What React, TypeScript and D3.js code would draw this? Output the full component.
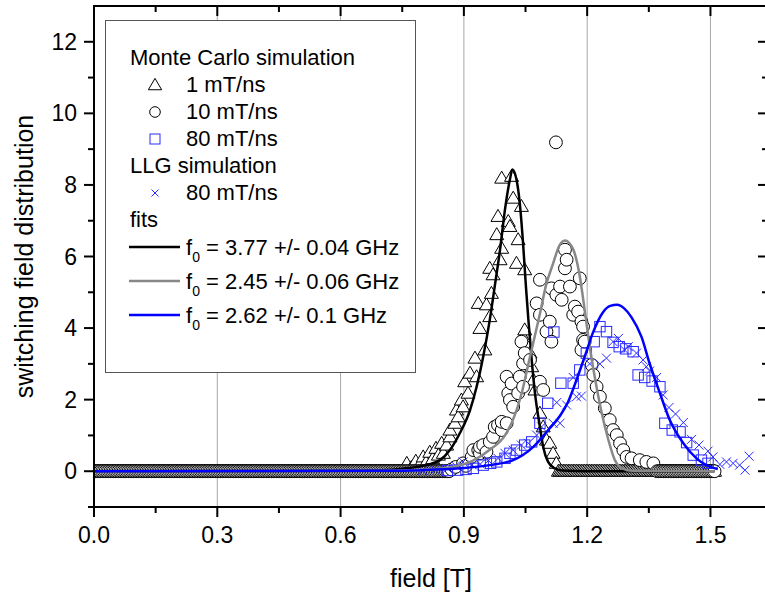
import React from "react";
import * as d3 from "d3";

const W = 765;
const H = 596;

const xDomain = [0, 1.64];
const yDomain = [-1, 13];
const xTickValues = [0, 0.3, 0.6, 0.9, 1.2, 1.5];
const xTickLabels = ["0.0", "0.3", "0.6", "0.9", "1.2", "1.5"];
const xMinorTicks = [0.15, 0.45, 0.75, 1.05, 1.35];
const yTickValues = [0, 2, 4, 6, 8, 10, 12];
const yTickLabels = ["0", "2", "4", "6", "8", "10", "12"];
const yMinorTicks = [-1, 1, 3, 5, 7, 9, 11];
const gridValues = [0.3, 0.6, 0.9, 1.2, 1.5];

// zero-valued stretches of the Monte Carlo histograms (field ranges where value = 0)
const zeroStep = 0.004;
const mc1ZeroRanges = [[0, 0.755], [1.13, 1.51]];
const mc10ZeroRanges = [[0, 0.865], [1.37, 1.51]];

// Monte Carlo 1 mT/ns (triangles)
const mc1Points = [
  [0.761, 0.22], [0.772, 0.1], [0.783, 0.28], [0.792, 0.18], [0.801, 0.4], [0.808, 0.25],
  [0.817, 0.53], [0.824, 0.35], [0.832, 0.64], [0.838, 0.45], [0.846, 0.78], [0.85, 0.5],
  [0.858, 0.73], [0.866, 0.96], [0.866, 1.15], [0.878, 1.34], [0.882, 1.71], [0.886, 1.52],
  [0.894, 1.99], [0.898, 1.8], [0.902, 2.5], [0.91, 2.18], [0.915, 2.74], [0.927, 3.16],
  [0.931, 2.64], [0.935, 4.69], [0.939, 3.99], [0.951, 3.39], [0.955, 4.65], [0.963, 4.32],
  [0.963, 5.67], [0.967, 4.97], [0.971, 5.49], [0.98, 6.61], [0.983, 7.12], [0.988, 5.91],
  [0.992, 6.23], [0.992, 8.19], [1.008, 6.98], [1.012, 6.84], [1.016, 8.24], [1.02, 7.63],
  [1.028, 5.81], [1.032, 6.47], [1.04, 7.4], [1.044, 3.76], [1.048, 5.63], [1.048, 3.95],
  [1.061, 3.3], [1.065, 2.92], [1.069, 2.55], [1.073, 2.27], [1.085, 1.62], [1.093, 1.24],
  [1.101, 0.87], [1.109, 0.78], [1.117, 0.5], [1.125, 0.22],
];

// Monte Carlo 10 mT/ns (circles)
const mc10Points = [
  [0.87, 0.05], [0.88, 0.12], [0.898, 0.22], [0.905, 0.15], [0.919, 0.4], [0.923, 0.59],
  [0.935, 0.59], [0.939, 0.5], [0.939, 0.68], [0.947, 0.73], [0.955, 0.54], [0.963, 0.82],
  [0.971, 0.96], [0.975, 1.24], [0.983, 1.29], [0.992, 1.15], [0.992, 1.38], [1.004, 1.34],
  [1.004, 2.64], [1.008, 2.18], [1.012, 1.99], [1.016, 2.45], [1.02, 1.8], [1.032, 2.18],
  [1.036, 2.64], [1.04, 3.62], [1.044, 2.36], [1.044, 3.01], [1.048, 3.3], [1.061, 3.11],
  [1.077, 4.69], [1.085, 5.35], [1.085, 4.37], [1.085, 2.5], [1.093, 2.27], [1.101, 3.9],
  [1.109, 4.18], [1.113, 5.11], [1.113, 3.62], [1.124, 9.19], [1.125, 4.93], [1.134, 5.16],
  [1.138, 4.79], [1.146, 6.19], [1.146, 5.67], [1.15, 5.91], [1.158, 5.16], [1.166, 4.37],
  [1.17, 4.6], [1.178, 4.46], [1.182, 5.39], [1.186, 4.18], [1.19, 4.04], [1.19, 3.67],
  [1.194, 3.62], [1.186, 3.39], [1.211, 2.97], [1.215, 2.69], [1.223, 2.36], [1.231, 2.08],
  [1.243, 1.76], [1.255, 1.43], [1.263, 1.15], [1.272, 1.01], [1.28, 0.78], [1.288, 0.59],
  [1.296, 0.4], [1.308, 0.36], [1.328, 0.31], [1.344, 0.26], [1.361, 0.22],
];

// Monte Carlo 80 mT/ns (squares)
const mc80Points = [
  [0.86, 0.02], [0.885, 0.03], [0.905, 0.05], [0.923, 0.08], [0.947, 0.17], [0.965, 0.22],
  [0.98, 0.26], [1.0, 0.36], [1.012, 0.5], [1.028, 0.59], [1.048, 0.73], [1.065, 0.82],
  [1.085, 1.34], [1.104, 1.9], [1.119, 3.89], [1.136, 2.46], [1.166, 2.46], [1.182, 2.83],
  [1.198, 3.3], [1.217, 3.62], [1.231, 4.04], [1.247, 3.9], [1.263, 3.6], [1.278, 3.48],
  [1.294, 3.42], [1.312, 3.34], [1.324, 2.69], [1.34, 2.62], [1.358, 2.52], [1.377, 2.36],
  [1.389, 1.34], [1.407, 1.15], [1.426, 1.1], [1.442, 0.8], [1.458, 0.45], [1.478, 0.31],
  [1.494, 0.22],
];

// LLG 80 mT/ns (crosses)
const llgPoints = [
  [0.8, 0.02], [0.83, 0.04], [0.86, 0.08], [0.88, 0.15], [0.898, 0.26], [0.92, 0.18],
  [0.94, 0.2], [0.96, 0.3], [0.983, 0.36], [1.0, 0.5], [1.02, 0.59], [1.04, 0.73],
  [1.057, 0.78], [1.077, 1.01], [1.089, 1.24], [1.117, 1.34], [1.126, 1.92], [1.134, 1.34],
  [1.15, 1.85], [1.166, 2.62], [1.174, 2.08], [1.186, 2.1], [1.206, 3.0], [1.231, 3.0],
  [1.247, 3.16], [1.263, 3.62], [1.276, 3.71], [1.29, 3.4], [1.3, 3.48], [1.32, 3.3],
  [1.336, 3.11], [1.344, 2.92], [1.352, 2.8], [1.369, 2.62], [1.385, 2.13], [1.399, 1.78],
  [1.415, 1.6], [1.434, 1.36], [1.454, 0.89], [1.472, 0.73], [1.494, 0.56], [1.506, 0.4],
  [1.523, 0.19], [1.539, 0.26], [1.555, 0.22], [1.571, 0.17], [1.584, 0.03], [1.594, 0.42],
];

// fits
const fitBlack = [
  [0, 0], [0.6, 0.01], [0.7, 0.03], [0.75, 0.07], [0.8, 0.15], [0.842, 0.31], [0.866, 0.59],
  [0.89, 1.06], [0.915, 1.71], [0.931, 2.36], [0.947, 3.2], [0.963, 4.23], [0.975, 5.16],
  [0.988, 6.19], [1.0, 7.31], [1.012, 8.15], [1.018, 8.43], [1.028, 8.15], [1.036, 7.49],
  [1.044, 6.37], [1.051, 5.16], [1.057, 4.23], [1.065, 3.11], [1.073, 2.18], [1.085, 1.24],
  [1.093, 0.68], [1.105, 0.26], [1.121, 0.08], [1.14, 0.02], [1.2, 0], [1.51, 0],
];
const fitGray = [
  [0, 0], [0.7, 0.01], [0.8, 0.04], [0.874, 0.12], [0.923, 0.3], [0.963, 0.6], [1.0, 1.0],
  [1.02, 1.45], [1.04, 2.15], [1.057, 3.0], [1.069, 3.6], [1.085, 4.4], [1.1, 5.2],
  [1.117, 5.8], [1.132, 6.3], [1.146, 6.45], [1.166, 6.2], [1.182, 5.45], [1.194, 4.5],
  [1.206, 3.5], [1.219, 2.6], [1.235, 1.65], [1.251, 0.9], [1.267, 0.32], [1.285, 0.08],
  [1.31, 0.01], [1.51, 0],
];
const fitBlue = [
  [0, 0], [0.7, 0.01], [0.8, 0.03], [0.89, 0.08], [0.963, 0.17], [1.02, 0.31], [1.069, 0.68],
  [1.109, 1.2], [1.134, 1.55], [1.154, 1.95], [1.174, 2.55], [1.194, 3.2], [1.215, 3.9],
  [1.239, 4.45], [1.256, 4.62], [1.273, 4.65], [1.29, 4.55], [1.308, 4.3], [1.332, 3.76],
  [1.352, 3.01], [1.377, 2.18], [1.401, 1.43], [1.434, 0.78], [1.466, 0.36], [1.49, 0.17],
  [1.518, 0.06],
];

const fitLabels = ["3.77 +/- 0.04 GHz", "2.45 +/- 0.06 GHz", "2.62 +/- 0.1 GHz"];
const fitColors = ["#000000", "#888888", "#0000ff"];

const FONT = "'Liberation Sans', Arial, sans-serif";
const BLUE_MARK = "#2a2aff";

const xs = d3.scaleLinear().domain(xDomain).range([94, 768]);
const ys = d3.scaleLinear().domain(yDomain).range([507, 6]);

function expandZeros(ranges: number[][]) {
  const out: number[][] = [];
  ranges.forEach(([a, b]) => {
    d3.range(a, b + 1e-9, zeroStep).forEach((v) => out.push([v, 0]));
  });
  return out;
}

function Tri({ cx, cy, s = 1 }: { cx: number; cy: number; s?: number }) {
  const p = `M${cx},${cy - 7 * s}L${cx + 7 * s},${cy + 5 * s}L${cx - 7 * s},${cy + 5 * s}Z`;
  return <path d={p} fill="#fff" stroke="#000" strokeWidth={1} />;
}
function Circ({ cx, cy }: { cx: number; cy: number }) {
  return <circle cx={cx} cy={cy} r={6.4} fill="#fff" stroke="#000" strokeWidth={1} />;
}
function Sq({ cx, cy }: { cx: number; cy: number }) {
  return <rect x={cx - 5.2} y={cy - 5.2} width={10.4} height={10.4} fill="none" stroke={BLUE_MARK} strokeWidth={1} />;
}
function Cross({ cx, cy, s = 4.5 }: { cx: number; cy: number; s?: number }) {
  return (
    <path
      d={`M${cx - s},${cy - s}L${cx + s},${cy + s}M${cx - s},${cy + s}L${cx + s},${cy - s}`}
      stroke={BLUE_MARK}
      strokeWidth={1}
      fill="none"
    />
  );
}

export default function App() {
  const line = d3
    .line<number[]>()
    .x((d) => xs(d[0]))
    .y((d) => ys(d[1]))
    .curve(d3.curveMonotoneX);

  const mc1All = [...expandZeros(mc1ZeroRanges), ...mc1Points].sort((a, b) => a[0] - b[0]);
  const mc10All = [...expandZeros(mc10ZeroRanges), ...mc10Points].sort((a, b) => a[0] - b[0]);

  const left = xs(xDomain[0]);
  const right = xs(xDomain[1]);
  const top = ys(yDomain[1]);
  const bottom = ys(yDomain[0]);

  const legendRows = [
    { y: 65, text: "Monte Carlo simulation", x: 130 },
    { y: 92, text: "1 mT/ns", x: 186, mark: "tri" },
    { y: 119, text: "10 mT/ns", x: 186, mark: "circ" },
    { y: 146, text: "80 mT/ns", x: 186, mark: "sq" },
    { y: 173, text: "LLG simulation", x: 130 },
    { y: 200, text: "80 mT/ns", x: 186, mark: "cross" },
    { y: 226.5, text: "fits", x: 130 },
  ];
  const fitRowY = [255, 289, 323];

  return (
    <svg
      width={W}
      height={H}
      style={{ position: "absolute", left: 0, top: 0, background: "#fff" }}
      fontFamily={FONT}
    >
      <defs>
        <clipPath id="plotClip">
          <rect x={left} y={top} width={right - left} height={bottom - top} />
        </clipPath>
      </defs>
      <rect x={0} y={0} width={W} height={H} fill="#fff" />
      {/* grid */}
      {gridValues.map((v) => (
        <line key={"g" + v} x1={xs(v)} x2={xs(v)} y1={top} y2={bottom} stroke="#a8a8a8" strokeWidth={1} />
      ))}

      <g clipPath="url(#plotClip)">
        {/* markers */}
        <g>
          {mc1All.map((d, i) => (
            <Tri key={"t" + i} cx={xs(d[0])} cy={ys(d[1])} />
          ))}
        </g>
        <g>
          {mc10All.map((d, i) => (
            <Circ key={"c" + i} cx={xs(d[0])} cy={ys(d[1])} />
          ))}
        </g>
        <g>
          {mc80Points.map((d, i) => (
            <Sq key={"s" + i} cx={xs(d[0])} cy={ys(d[1])} />
          ))}
        </g>
        <g>
          {llgPoints.map((d, i) => (
            <Cross key={"x" + i} cx={xs(d[0])} cy={ys(d[1])} />
          ))}
        </g>

        {/* fits */}
        <path d={line(fitBlack) || ""} fill="none" stroke={fitColors[0]} strokeWidth={2.5} />
        <path d={line(fitGray) || ""} fill="none" stroke={fitColors[1]} strokeWidth={2.5} />
        <path d={line(fitBlue) || ""} fill="none" stroke={fitColors[2]} strokeWidth={2.5} />
      </g>

      {/* legend */}
      <rect x={105.5} y={20.5} width={310} height={352} fill="#fff" stroke="#555" strokeWidth={1} />
      {legendRows.map((r, i) => (
        <g key={"lr" + i}>
          <text x={r.x} y={r.y} fontSize={22} fill="#000">
            {r.text}
          </text>
          {r.mark === "tri" && <Tri cx={155} cy={r.y - 7} s={0.95} />}
          {r.mark === "circ" && (
            <circle cx={155} cy={r.y - 7} r={5.3} fill="#fff" stroke="#000" strokeWidth={1} />
          )}
          {r.mark === "sq" && (
            <rect x={150} y={r.y - 12} width={10} height={10} fill="none" stroke={BLUE_MARK} strokeWidth={1} />
          )}
          {r.mark === "cross" && <Cross cx={155} cy={r.y - 7} s={3.5} />}
        </g>
      ))}
      {fitLabels.map((lab, i) => (
        <g key={"fl" + i}>
          <line x1={129} x2={180} y1={fitRowY[i] - 8} y2={fitRowY[i] - 8} stroke={fitColors[i]} strokeWidth={2.5} />
          <text x={186} y={fitRowY[i]} fontSize={22} fill="#000">
            <tspan>f</tspan>
            <tspan dy={7} fontSize={14}>
              0
            </tspan>
            <tspan dy={-7}>{" = " + lab}</tspan>
          </text>
        </g>
      ))}

      {/* axes frame */}
      <g stroke="#000" strokeWidth={2} fill="none">
        <line x1={left} x2={left} y1={top - 1} y2={bottom + 1} />
        <line x1={left - 1} x2={right} y1={bottom} y2={bottom} />
        <line x1={left - 1} x2={right} y1={top} y2={top} />
        <line x1={right} x2={right} y1={top} y2={bottom} />
        {xTickValues.map((v) => (
          <g key={"xt" + v}>
            <line x1={xs(v)} x2={xs(v)} y1={bottom} y2={bottom + 10} />
            <line x1={xs(v)} x2={xs(v)} y1={top} y2={top + 10} />
          </g>
        ))}
        {xMinorTicks.map((v) => (
          <g key={"xm" + v}>
            <line x1={xs(v)} x2={xs(v)} y1={bottom} y2={bottom + 6} />
            <line x1={xs(v)} x2={xs(v)} y1={top} y2={top + 6} />
          </g>
        ))}
        {yTickValues.map((v) => (
          <g key={"yt" + v}>
            <line x1={left - 10} x2={left} y1={ys(v)} y2={ys(v)} />
            <line x1={right - 10} x2={right} y1={ys(v)} y2={ys(v)} />
          </g>
        ))}
        {yMinorTicks.map((v) => (
          <g key={"ym" + v}>
            <line x1={left - 6} x2={left} y1={ys(v)} y2={ys(v)} />
            <line x1={right - 6} x2={right} y1={ys(v)} y2={ys(v)} />
          </g>
        ))}
      </g>

      {/* tick labels */}
      {xTickValues.map((v, i) => (
        <text key={"xl" + v} x={xs(v)} y={543} fontSize={23} textAnchor="middle" fill="#000">
          {xTickLabels[i]}
        </text>
      ))}
      {yTickValues.map((v, i) => (
        <text key={"yl" + v} x={77} y={ys(v) + 8} fontSize={23} textAnchor="end" fill="#000">
          {yTickLabels[i]}
        </text>
      ))}

      {/* axis titles */}
      <text x={431} y={587} fontSize={25} textAnchor="middle" fill="#000">
        field [T]
      </text>
      <text
        transform={`translate(33,256.5) rotate(-90)`}
        fontSize={25}
        textAnchor="middle"
        fill="#000"
      >
        switching field distribution
      </text>
    </svg>
  );
}
